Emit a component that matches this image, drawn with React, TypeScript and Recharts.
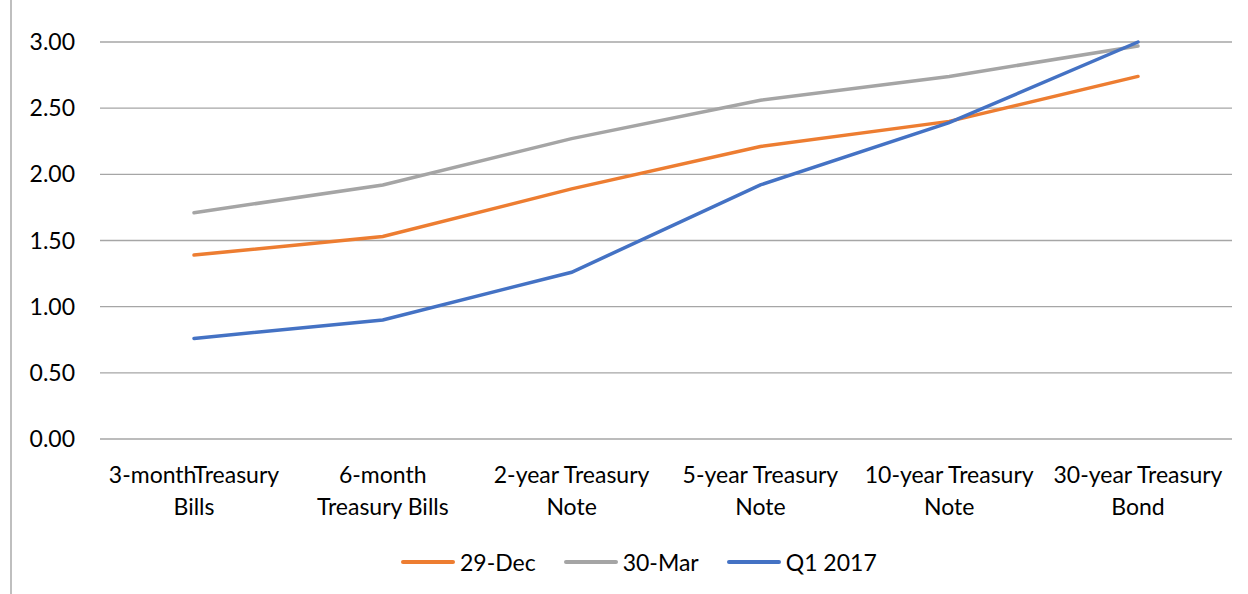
import { CartesianGrid, Legend, Line, LineChart, XAxis, YAxis } from 'recharts';

const categories = [
  '3-monthTreasury\nBills',
  '6-month\nTreasury Bills',
  '2-year Treasury\nNote',
  '5-year Treasury\nNote',
  '10-year Treasury\nNote',
  '30-year Treasury\nBond',
];
const dec29 = [1.39, 1.53, 1.89, 2.21, 2.4, 2.74];
const mar30 = [1.71, 1.92, 2.27, 2.56, 2.74, 2.97];
const q12017 = [0.76, 0.9, 1.26, 1.92, 2.39, 3.0];
const yTicks = [0, 0.5, 1, 1.5, 2, 2.5, 3];

const SERIES = [
  { key: 'dec29', name: '29-Dec', color: '#ED7D31' },
  { key: 'mar30', name: '30-Mar', color: '#A5A5A5' },
  { key: 'q12017', name: 'Q1 2017', color: '#4472C4' },
];

const FONT = 'Lato, "Noto Sans", sans-serif';
const FS = 23;

const data = categories.map((name, i) => ({
  name,
  dec29: dec29[i],
  mar30: mar30[i],
  q12017: q12017[i],
}));

function CategoryTick({ x, y, payload }: any) {
  const lines = String(payload.value).split('\n');
  return (
    <text x={x} y={y + 44} textAnchor="middle" fill="#000" fontSize={FS} fontFamily={FONT}>
      {lines.map((l, i) => (
        <tspan key={i} x={x} dy={i === 0 ? 0 : 32}>
          {l}
        </tspan>
      ))}
    </text>
  );
}

function LegendRow() {
  return (
    <div style={{ display: 'flex', alignItems: 'center', paddingLeft: 401, fontFamily: FONT, fontSize: FS, color: '#000' }}>
      {SERIES.map((s) => (
        <div key={s.key} style={{ display: 'flex', alignItems: 'center', marginRight: 28 }}>
          <span style={{ display: 'inline-block', width: 54, height: 3.5, background: s.color, borderRadius: 2, marginRight: 5 }} />
          <span>{s.name}</span>
        </div>
      ))}
    </div>
  );
}

export default function App() {
  return (
    <div style={{ position: 'absolute', left: 0, top: 0, width: 1248, height: 594, background: '#fff' }}>
      <div style={{ position: 'absolute', left: 10, top: 0, width: 2, height: 594, background: '#BFBFBF' }} />
      <LineChart width={1248} height={594} data={data} margin={{ top: 42, right: 16, left: 0, bottom: 0 }}>
        <CartesianGrid vertical={false} stroke="#A6A6A6" strokeWidth={1.3} />
        <XAxis
          dataKey="name"
          interval={0}
          height={155}
          padding={{ left: 94, right: 94 }}
          tickLine={false}
          axisLine={false}
          tickSize={0}
          tickMargin={0}
          tick={<CategoryTick />}
        />
        <YAxis
          domain={[0, 3]}
          ticks={yTicks}
          width={100}
          tickLine={false}
          axisLine={false}
          tickSize={0}
          tickMargin={25}
          tickFormatter={(v: number) => v.toFixed(2)}
          tick={{ fill: '#000', fontSize: FS, fontFamily: FONT }}
        />
        <Legend
          layout="horizontal"
          verticalAlign="middle"
          align="center"
          content={<LegendRow />}
          wrapperStyle={{ left: 0, top: 548, width: 1248 }}
        />
        {SERIES.map((s) => (
          <Line
            key={s.key}
            dataKey={s.key}
            name={s.name}
            stroke={s.color}
            strokeWidth={3.5}
            dot={false}
            activeDot={false}
            strokeLinecap="round"
            isAnimationActive={false}
          />
        ))}
      </LineChart>
    </div>
  );
}
